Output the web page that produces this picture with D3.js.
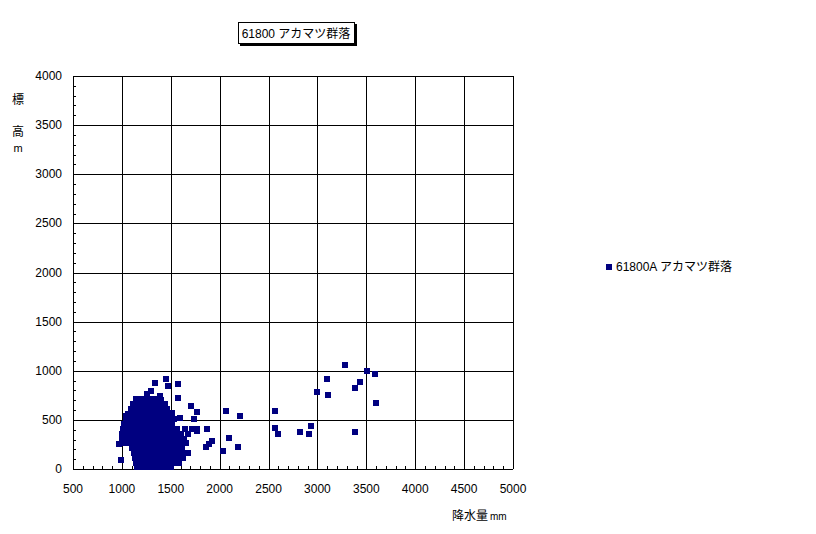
<!DOCTYPE html>
<html lang="ja">
<head>
<meta charset="utf-8">
<script src="https://d3js.org/d3.v7.min.js"></script>
<style>
body { margin: 0; background: #fff; }
text { font-family: "Liberation Sans", "Noto Sans CJK JP", sans-serif; font-size: 12px; fill: #000; }
</style>
</head>
<body>
<svg width="816" height="534"></svg>
<script>
// series name / labels
var seriesName = "61800A アカマツ群落";
var chartTitle = "61800 アカマツ群落";
var xTicks = [500, 1000, 1500, 2000, 2500, 3000, 3500, 4000, 4500, 5000];
var yTicks = [0, 500, 1000, 1500, 2000, 2500, 3000, 3500, 4000];

// precipitation (mm) values
var precip = [
  // scattered outliers
  3282, 3507, 3589, 3098, 3435, 3384, 2995, 3108, 3599,
  2566, 2566, 2597, 2822, 2934, 2914, 3384,
  2065, 2208, 2095, 2187, 2034, 1922, 1891, 1860, 1870,
  1451, 1339, 1472, 1574, 1298, 1257, 1390, 1574, 1400, 1707, 1768,
  1594, 1737, 1512, 1768, 1768, 1656, 1676, 991, 970, 1042, 1144,
  // dense cluster
  1150, 1200, 1250, 1300, 1350, 1400, 1450, 1500,
  1140, 1190, 1240, 1290, 1340, 1390, 1440, 1490, 1540, 1580,
  1130, 1180, 1230, 1280, 1330, 1380, 1430, 1480, 1530, 1580, 1620,
  1120, 1170, 1220, 1270, 1320, 1370, 1420, 1470, 1520, 1570, 1630,
  1100, 1150, 1200, 1250, 1300, 1350, 1400, 1450, 1500, 1550, 1610,
  1020, 1070, 1120, 1170, 1220, 1270, 1320, 1370, 1420, 1470, 1530, 1590,
  1000, 1050, 1100, 1150, 1200, 1250, 1300, 1350, 1400, 1450, 1510, 1570, 1640,
  1000, 1050, 1100, 1150, 1200, 1260, 1310, 1360, 1420, 1480, 1540, 1600, 1680,
  1010, 1060, 1110, 1160, 1210, 1260, 1320, 1380, 1440, 1500, 1560, 1650, 1720,
  1020, 1070, 1120, 1170, 1220, 1270, 1330, 1390, 1450, 1510,
  1040, 1090, 1140, 1190, 1240, 1290, 1350, 1410, 1470, 1530,
  1060, 1110, 1160, 1210, 1260, 1310, 1370, 1430, 1490,
  1090, 1140, 1190, 1240, 1290, 1350, 1410, 1460,
  1110, 1160, 1210, 1260, 1320, 1380, 1440,
  1150, 1200, 1250, 1310, 1370
];

// elevation (m) values, same order as precip
var elevation = [
  1058, 997, 967, 916, 885, 824, 784, 753, 672,
  590, 417, 356, 377, 438, 356, 377,
  590, 539, 316, 224, 183, 285, 254, 224, 407,
  916, 875, 845, 865, 794, 763, 743, 723, 702, 641, 580,
  519, 509, 570, 407, 387, 265, 163, 92, 254, 539, 712,
  20, 20, 20, 20, 20, 20, 20, 20,
  60, 60, 60, 60, 60, 60, 60, 60, 60, 60,
  110, 110, 110, 110, 110, 110, 110, 110, 110, 110, 110,
  160, 160, 160, 160, 160, 160, 160, 160, 160, 160, 160,
  210, 210, 210, 210, 210, 210, 210, 210, 210, 210, 210,
  260, 260, 260, 260, 260, 260, 260, 260, 260, 260, 260, 260,
  310, 310, 310, 310, 310, 310, 310, 310, 310, 310, 310, 310, 310,
  360, 360, 360, 360, 360, 360, 360, 360, 360, 360, 360, 360, 360,
  410, 410, 410, 410, 410, 410, 410, 410, 410, 410, 410, 410, 410,
  460, 460, 460, 460, 460, 460, 460, 460, 460, 460,
  510, 510, 510, 510, 510, 510, 510, 510, 510, 510,
  560, 560, 560, 560, 560, 560, 560, 560, 560,
  610, 610, 610, 610, 610, 610, 610, 610,
  660, 660, 660, 660, 660, 660, 660,
  710, 710, 710, 710, 710
];

var svg = d3.select("svg");
var plotL = 73, plotR = 513, plotT = 76, plotB = 469;
var color = "#000080";

var x = d3.scaleLinear().domain([500, 5000]).range([plotL, plotR]);
var y = d3.scaleLinear().domain([0, 4000]).range([plotB, plotT]);

// grid lines (every 500) incl. frame
svg.append("g").selectAll("line").data(xTicks).enter().append("line")
    .attr("x1", function(d) { return Math.round(x(d)) + 0.5; })
    .attr("x2", function(d) { return Math.round(x(d)) + 0.5; })
    .attr("y1", plotT).attr("y2", plotB)
    .attr("stroke", "#000");
svg.append("g").selectAll("line").data(yTicks).enter().append("line")
    .attr("y1", function(d) { return Math.round(y(d)) + 0.5; })
    .attr("y2", function(d) { return Math.round(y(d)) + 0.5; })
    .attr("x1", plotL).attr("x2", plotR)
    .attr("stroke", "#000");

// minor ticks every 100, inside the plot
svg.append("g").selectAll("line").data(d3.range(500, 5001, 100)).enter().append("line")
    .attr("x1", function(d) { return Math.round(x(d)) + 0.5; })
    .attr("x2", function(d) { return Math.round(x(d)) + 0.5; })
    .attr("y1", plotB).attr("y2", plotB - 3)
    .attr("stroke", "#000");
svg.append("g").selectAll("line").data(d3.range(0, 4001, 100)).enter().append("line")
    .attr("y1", function(d) { return Math.round(y(d)) + 0.5; })
    .attr("y2", function(d) { return Math.round(y(d)) + 0.5; })
    .attr("x1", plotL).attr("x2", plotL + 3)
    .attr("stroke", "#000");

// tick labels
svg.append("g").selectAll("text").data(xTicks).enter().append("text")
    .attr("x", function(d) { return x(d); })
    .attr("y", 493)
    .attr("text-anchor", "middle")
    .text(function(d) { return d; });
svg.append("g").selectAll("text").data(yTicks).enter().append("text")
    .attr("x", 62)
    .attr("y", function(d) { return y(d) + 4; })
    .attr("text-anchor", "end")
    .text(function(d) { return d; });

// axis titles
svg.append("text").attr("x", 18).attr("y", 104).attr("text-anchor", "middle").text("標");
svg.append("text").attr("x", 18).attr("y", 136).attr("text-anchor", "middle").text("高");
svg.append("text").attr("x", 18).attr("y", 152).attr("text-anchor", "middle").style("font-size", "11px").text("m");
var xl = svg.append("text").attr("x", 452).attr("y", 520).text("降水量");
xl.append("tspan").attr("dx", 2).style("font-size", "10px").text("mm");

// points
var pts = precip.map(function(p, i) { return [p, elevation[i]]; });
svg.append("g").selectAll("rect").data(pts).enter().append("rect")
    .attr("x", function(d) { return Math.round(x(d[0])) - 3; })
    .attr("y", function(d) { return Math.round(y(d[1])) - 3; })
    .attr("width", 6).attr("height", 6)
    .attr("fill", color);

// title box with shadow
svg.append("rect").attr("x", 240).attr("y", 24).attr("width", 117).attr("height", 22).attr("fill", "#000");
svg.append("rect").attr("x", 238.5).attr("y", 22.5).attr("width", 116).attr("height", 21)
    .attr("fill", "#fff").attr("stroke", "#000");
svg.append("text").attr("x", 296).attr("y", 38).attr("text-anchor", "middle").text(chartTitle);

// legend
svg.append("rect").attr("x", 606).attr("y", 264).attr("width", 6).attr("height", 6).attr("fill", color);
svg.append("text").attr("x", 616).attr("y", 271).text(seriesName);
</script>
</body>
</html>
